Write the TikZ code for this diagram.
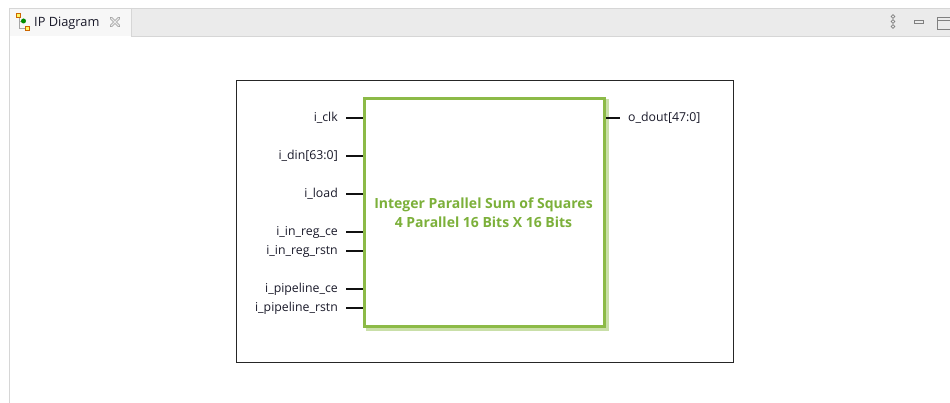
\documentclass[tikz,border=0pt]{standalone}
\usepackage{fontspec}
\setmainfont{Open Sans}
\newfontfamily\symfont{DejaVu Sans}
\definecolor{tabgray}{HTML}{EBEBEB}
\definecolor{tabline}{HTML}{D6D6D6}
\definecolor{ipgreen}{HTML}{8CBA47}
\definecolor{ipshadow}{HTML}{C9DFA8}
\definecolor{iptext}{HTML}{7CB03A}
\definecolor{pinblack}{HTML}{111111}
\definecolor{labeltext}{HTML}{1A1A2A}
\tikzset{
  pinlabel/.style={font=\fontsize{12.3}{14}\selectfont, text=labeltext, inner sep=0pt},
  pinwire/.style={line width=1.8pt, pinblack},
  ipbox/.style={draw=ipgreen, line width=3pt, fill=white},
}
\begin{document}
\begin{tikzpicture}[x=1pt,y=-1pt]
\useasboundingbox (0,0) rectangle (950,403);
\fill[white] (0,0) rectangle (950,403);
% tab bar
\fill[tabgray] (10,8) rectangle (950,36);
\fill[white!97!black] (10,8) rectangle (131,36);
\draw[tabline] (131,8) -- (131,36);
\draw[tabline] (10,8) -- (950,8);
\draw[tabline] (9.5,8) -- (9.5,403);
\draw[tabline] (131,36) -- (950,36);
% tab icon
\draw[gray!70, line width=0.8pt] (19,16) -- (19,28) -- (25,28);
\draw[gray!70, line width=0.8pt] (19,21) -- (23,21);
\draw[draw=orange!80!black, fill=yellow!60, line width=0.5pt] (16.5,13.5) rectangle (20.5,17.5);
\fill[green!55!black] (23.5,21) circle (2.5);
\draw[draw=orange!80!black, fill=yellow!60, line width=0.5pt] (25,26) rectangle (29,30);
\node[font=\fontsize{12.8}{14}\selectfont, anchor=west, inner sep=0pt, text=labeltext] (tabtitle) at (34,23) {IP Diagram};
% close icon (outlined X)
\draw[gray!80, line width=2.6pt, line cap=round] (111,18) -- (119,26) (119,18) -- (111,26);
\draw[white!92!black, line width=1.2pt, line cap=round] (111,18) -- (119,26) (119,18) -- (111,26);
% right icons
\draw[gray, line width=0.7pt] (893,16.5) circle (1.8) (893,21.5) circle (1.8) (893,26.5) circle (1.8);
\draw[gray, line width=0.8pt] (914,20) rectangle (923,23);
\draw[gray, line width=0.8pt] (937,17) rectangle (950,29);
\draw[gray, line width=0.8pt] (937,20) -- (950,20);
% outer frame
\draw[black!85, line width=0.9pt] (236.5,80.5) rectangle (733.5,362);
% IP block with shadow
\draw[ipshadow, line width=3pt] (367,101) rectangle (607,329);
\node[ipbox, minimum width=240pt, minimum height=228pt, anchor=north west, inner sep=0pt] (ip) at (363,97) {};
\node[align=center, font=\fontsize{14}{19}\selectfont\bfseries, text=iptext] (title) at (483.5,212.5)
  {Integer Parallel Sum of Squares\\4 Parallel 16 Bits X 16 Bits};
% pins
\foreach \nm/\yy/\txt in {clk/118/i\_clk, din/156/i\_din[63:0], load/194/i\_load,
  inregce/232/i\_in\_reg\_ce, inregrstn/251/i\_in\_reg\_rstn,
  pipece/289/i\_pipeline\_ce, piperstn/308/i\_pipeline\_rstn}{
  \coordinate (w\nm) at (346,\yy);
  \draw[pinwire] (w\nm) -- (ip.west |- w\nm);
  \node[pinlabel, anchor=east] (l\nm) at (338,\yy) {\txt};
}
\coordinate (wdout) at (620,118);
\draw[pinwire] (ip.east |- wdout) -- (wdout);
\node[pinlabel, anchor=west] (ldout) at (628,118) {o\_dout[47:0]};
\end{tikzpicture}
\end{document}
